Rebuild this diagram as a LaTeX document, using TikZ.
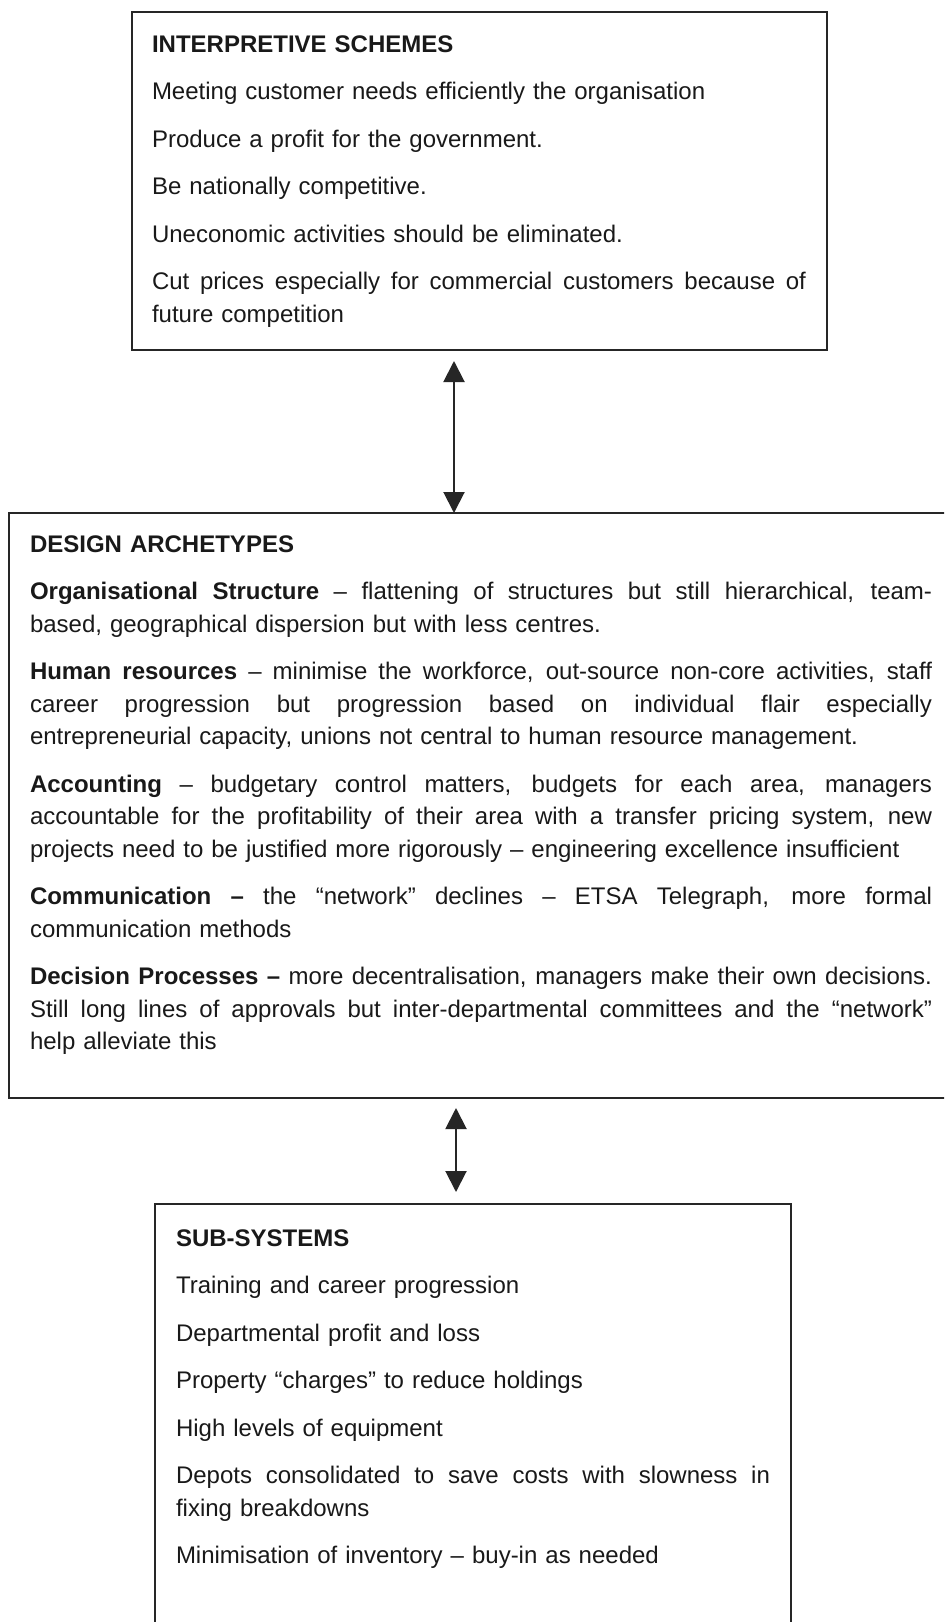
\documentclass[tikz,border=0pt]{standalone}
\usepackage{fontspec}
\setmainfont{Liberation Sans}
\usetikzlibrary{arrows.meta}
\tikzset{
  box/.style={draw=black!85, line width=1pt, inner sep=0pt, outer sep=0pt, anchor=north west},
  txt/.style={inner sep=0pt, outer sep=0pt, anchor=base west, align=left, text=black!90,
    font=\fontsize{12pt}{16.25pt}\selectfont},
  link/.style={draw=black!85, line width=1pt,
    {Triangle[width=10.5pt,length=10.5pt]}-{Triangle[width=10.5pt,length=10.5pt]}}
}
\newcommand{\jl}[1]{\leavevmode\hbox to \hsize{\spaceskip=0.278em plus 1fil\relax #1}}
\begin{document}
\begin{tikzpicture}[x=0.5pt,y=-0.5pt]
\useasboundingbox (0,0) rectangle (944,1622);
\fill[white] (0,0) rectangle (944,1622);
\clip (0,0) rectangle (944,1622);

% boxes
\node[box, minimum width=347.5pt, minimum height=169pt] (top) at (132,12) {};
\node[box, minimum width=480pt, minimum height=292.5pt] (mid) at (9,513) {};
\node[box, minimum width=318pt, minimum height=230pt] (bot) at (155,1204) {};

% texts
\node[txt, text width=327pt] (toptext) at (152,52) {%
\textbf{INTERPRETIVE SCHEMES}\\[7.5pt]
Meeting customer needs efficiently the organisation\\[7.5pt]
Produce a profit for the government.\\[7.5pt]
Be nationally competitive.\\[7.5pt]
Uneconomic activities should be eliminated.\\[7.5pt]
\jl{Cut prices especially for commercial customers because of}\\
future competition};

\node[txt, text width=451pt] (midtext) at (30,552) {%
\textbf{DESIGN ARCHETYPES}\\[7.5pt]
\jl{\textbf{Organisational Structure} – flattening of structures but still hierarchical, team-}\\
based, geographical dispersion but with less centres.\\[7.5pt]
\jl{\textbf{Human resources} – minimise the workforce, out-source non-core activities, staff}\\
\jl{career progression but progression based on individual flair especially}\\
entrepreneurial capacity, unions not central to human resource management.\\[7.5pt]
\jl{\textbf{Accounting} – budgetary control matters, budgets for each area, managers}\\
\jl{accountable for the profitability of their area with a transfer pricing system, new}\\
projects need to be justified more rigorously – engineering excellence insufficient\\[7.5pt]
\jl{\textbf{Communication –} the “network” declines – ETSA Telegraph, more formal}\\
communication methods\\[7.5pt]
\jl{\textbf{Decision Processes –} more decentralisation, managers make their own decisions.}\\
\jl{Still long lines of approvals but inter-departmental committees and the “network”}\\
help alleviate this};

\node[txt, text width=297pt] (bottext) at (176,1246) {%
\textbf{SUB-SYSTEMS}\\[7.5pt]
Training and career progression\\[7.5pt]
Departmental profit and loss\\[7.5pt]
Property “charges” to reduce holdings\\[7.5pt]
High levels of equipment\\[7.5pt]
\jl{Depots consolidated to save costs with slowness in}\\
fixing breakdowns\\[7.5pt]
Minimisation of inventory – buy-in as needed};

% connectors
\coordinate (ax1) at (454,0);
\coordinate (ax2) at (456,0);
\draw[link, shorten <=5.5pt] (top.south -| ax1) -- (mid.north -| ax1);
\draw[link, shorten <=5pt, shorten >=6pt] (mid.south -| ax2) -- (bot.north -| ax2);
\end{tikzpicture}
\end{document}
